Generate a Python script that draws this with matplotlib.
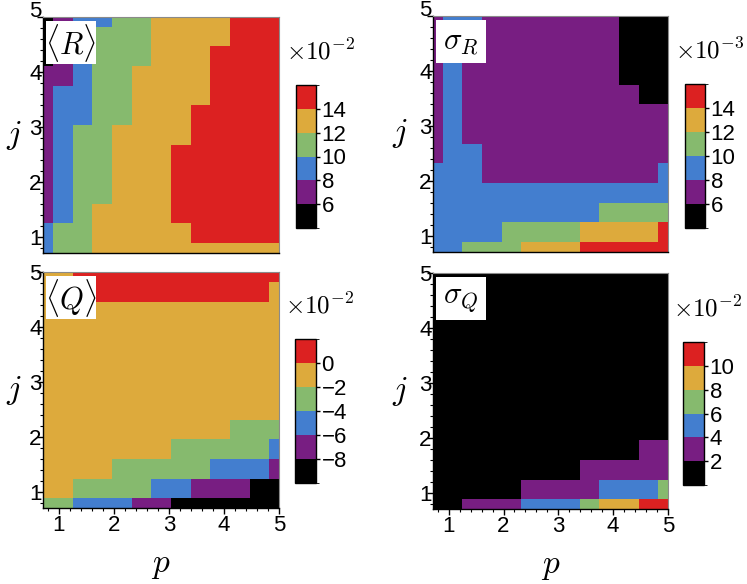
import numpy as np
import matplotlib
matplotlib.use("Agg")
import matplotlib.pyplot as plt
from matplotlib.colors import ListedColormap, BoundaryNorm
from matplotlib.ticker import MultipleLocator
from matplotlib.patches import Rectangle

plt.rcParams['font.family'] = ['Liberation Sans', 'DejaVu Sans']
plt.rcParams['mathtext.fontset'] = 'cm'

# grid of p and j (same values on both axes)
p = np.arange(2, 15) * 5 / 14
j = np.arange(2, 15) * 5 / 14

# <R>, units of 1e-2, rows = j from low to high
R_mean = [
    [9, 11, 11, 13, 13, 13, 13, 13, 13, 13, 13, 13, 13],
    [9, 11, 11, 13, 13, 13, 13, 13, 15, 15, 15, 15, 15],
    [7, 9, 11, 13, 13, 13, 13, 15, 15, 15, 15, 15, 15],
    [7, 9, 11, 11, 13, 13, 13, 15, 15, 15, 15, 15, 15],
    [7, 9, 11, 11, 13, 13, 13, 15, 15, 15, 15, 15, 15],
    [7, 9, 11, 11, 13, 13, 13, 15, 15, 15, 15, 15, 15],
    [7, 9, 11, 11, 13, 13, 13, 13, 15, 15, 15, 15, 15],
    [7, 9, 9, 11, 11, 13, 13, 13, 15, 15, 15, 15, 15],
    [7, 9, 9, 11, 11, 13, 13, 13, 13, 15, 15, 15, 15],
    [7, 7, 9, 11, 11, 13, 13, 13, 13, 15, 15, 15, 15],
    [5, 7, 9, 11, 11, 11, 13, 13, 13, 15, 15, 15, 15],
    [5, 7, 9, 11, 11, 11, 13, 13, 13, 13, 15, 15, 15],
    [5, 7, 9, 9, 11, 11, 13, 13, 13, 13, 15, 15, 15],
]

# sigma_R, units of 1e-3
R_std = [
    [9, 9, 11, 11, 11, 13, 13, 13, 15, 15, 15, 15, 15],
    [9, 9, 9, 9, 11, 11, 11, 11, 13, 13, 13, 13, 15],
    [9, 9, 9, 9, 9, 9, 9, 9, 9, 11, 11, 11, 11],
    [9, 9, 9, 9, 9, 9, 9, 9, 9, 9, 9, 9, 9],
    [9, 9, 9, 7, 7, 7, 7, 7, 7, 7, 7, 7, 9],
    [7, 9, 9, 7, 7, 7, 7, 7, 7, 7, 7, 7, 7],
    [7, 9, 7, 7, 7, 7, 7, 7, 7, 7, 7, 7, 7],
    [7, 9, 7, 7, 7, 7, 7, 7, 7, 7, 7, 7, 7],
    [7, 9, 7, 7, 7, 7, 7, 7, 7, 7, 7, 5, 5],
    [7, 9, 7, 7, 7, 7, 7, 7, 7, 7, 5, 5, 5],
    [7, 9, 7, 7, 7, 7, 7, 7, 7, 7, 5, 5, 5],
    [7, 9, 9, 7, 7, 7, 7, 7, 7, 7, 5, 5, 5],
    [7, 9, 9, 7, 7, 7, 7, 7, 7, 7, 5, 5, 5],
]

# <Q>, units of 1e-2
Q_mean = [
    [-3, -3, -5, -5, -5, -7, -7, -9, -9, -9, -9, -9, -9],
    [-1, -1, -3, -3, -3, -3, -5, -5, -7, -7, -7, -9, -9],
    [-1, -1, -1, -1, -3, -3, -3, -3, -3, -5, -5, -5, -7],
    [-1, -1, -1, -1, -1, -1, -1, -3, -3, -3, -3, -3, -5],
    [-1, -1, -1, -1, -1, -1, -1, -1, -1, -1, -3, -3, -3],
    [-1, -1, -1, -1, -1, -1, -1, -1, -1, -1, -1, -1, -1],
    [-1, -1, -1, -1, -1, -1, -1, -1, -1, -1, -1, -1, -1],
    [-1, -1, -1, -1, -1, -1, -1, -1, -1, -1, -1, -1, -1],
    [-1, -1, -1, -1, -1, -1, -1, -1, -1, -1, -1, -1, -1],
    [-1, -1, -1, -1, -1, -1, -1, -1, -1, -1, -1, -1, -1],
    [-1, -1, -1, -1, -1, -1, -1, -1, -1, -1, -1, -1, -1],
    [-1, -1, 1, 1, 1, 1, 1, 1, 1, 1, 1, 1, -1],
    [-1, -1, 1, 1, 1, 1, 1, 1, 1, 1, 1, 1, 1],
]

# sigma_Q, units of 1e-2
Q_std = [
    [1, 1, 3, 3, 3, 5, 5, 5, 7, 9, 9, 11, 11],
    [1, 1, 1, 1, 1, 3, 3, 3, 3, 5, 5, 5, 7],
    [1, 1, 1, 1, 1, 1, 1, 1, 3, 3, 3, 3, 3],
    [1, 1, 1, 1, 1, 1, 1, 1, 1, 1, 1, 3, 3],
] + [[1] * 13 for _ in range(9)]

colors = ['#000000', '#781e82', '#437ecf', '#86ba6e', '#ddaa3c', '#dc2121']
cmap = ListedColormap(colors)

panels = [
    # data, bounds, cbar ticks, name, exponent, axes rect, cbar rect (pixels)
    (R_mean, np.arange(4, 17, 2), [6, 8, 10, 12, 14], r'$\langle R\rangle$', '-2',
     (43, 17, 279, 253), (296, 85, 316, 228)),
    (R_std, np.arange(4, 17, 2), [6, 8, 10, 12, 14], r'$\sigma_R$', '-3',
     (433, 16, 668, 252), (685, 84, 705, 228)),
    (Q_mean, np.arange(-10, 3, 2), [-8, -6, -4, -2, 0], r'$\langle Q\rangle$', '-2',
     (43, 272, 279, 508), (295, 339, 316, 483)),
    (Q_std, np.arange(0, 13, 2), [2, 4, 6, 8, 10], r'$\sigma_Q$', '-2',
     (433, 273, 668, 509), (683, 342, 704, 485)),
]

W, H = 747, 584
fig = plt.figure(figsize=(W / 100, H / 100), dpi=100)


def rect(box):
    x0, y0, x1, y1 = box
    return [x0 / W, 1 - y1 / H, (x1 - x0) / W, (y1 - y0) / H]


for k, (data, bounds, cticks, name, expo, abox, cbox) in enumerate(panels):
    ax = fig.add_axes(rect(abox))
    norm = BoundaryNorm(bounds, cmap.N)
    mesh = ax.pcolormesh(p, j, np.array(data), cmap=cmap, norm=norm, shading='nearest')
    ax.set_xlim(p[0], 5)
    ax.set_ylim(j[0], 5)

    ax.set_xticks([1, 2, 3, 4, 5])
    ax.set_yticks([1, 2, 3, 4, 5])
    ax.xaxis.set_minor_locator(MultipleLocator(0.2))
    ax.yaxis.set_minor_locator(MultipleLocator(0.2))
    ax.tick_params(which='major', length=4, width=1, labelsize=16)
    ax.tick_params(which='minor', length=2, width=0.8)
    ax.tick_params(axis='y', pad=-3)
    ax.tick_params(axis='x', pad=1)

    for s in ['top', 'right']:
        ax.spines[s].set_color('#8a8a8a')
        ax.spines[s].set_linewidth(0.8)
    for s in ['left', 'bottom']:
        ax.spines[s].set_linewidth(1.0)

    if k < 2:
        ax.tick_params(axis='x', which='both', bottom=False, labelbottom=False)
        # top label sits above its tick
        ax.get_yticklabels()[-1].set_va('baseline')
    else:
        ax.set_xlabel('$p$', fontsize=24)
        ax.xaxis.set_label_coords(0.5, -0.18)

    ax.set_ylabel('$j$', fontsize=24, rotation=0, va='center', ha='center')
    ax.yaxis.set_label_coords(-0.125 if k % 2 == 0 else -0.14, 0.5)

    # white label box in the top-left corner
    w = abox[2] - abox[0]
    bx0, by0, bw, bh = 3 / w, 1 - 47 / w, 50 / w, 43 / w
    ax.add_patch(Rectangle((bx0, by0), bw, bh, transform=ax.transAxes,
                           facecolor='white', edgecolor='none', zorder=3))
    ax.text(bx0 + bw / 2, by0 + bh / 2, name, transform=ax.transAxes,
            ha='center', va='center', fontsize=22, zorder=4)

    cax = fig.add_axes(rect(cbox))
    cb = fig.colorbar(mesh, cax=cax, ticks=cticks)
    cb.outline.set_linewidth(1.0)
    cax.tick_params(length=3, width=1, labelsize=16, pad=1)

    x0, y0, x1, y1 = cbox
    fig.text((x0 + 25) / W, 1 - (y0 - 33) / H, r'$\times 10^{' + expo + '}$',
             ha='center', va='center', fontsize=18)

fig.savefig('out.png', dpi=100)
